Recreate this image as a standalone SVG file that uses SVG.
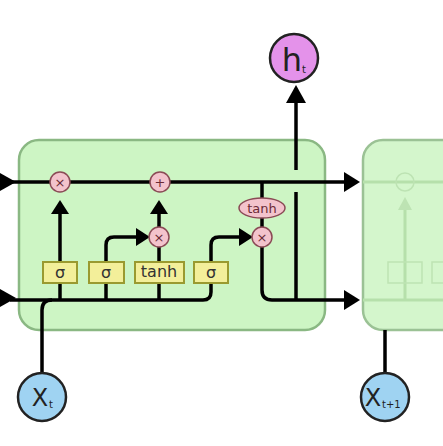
<svg xmlns="http://www.w3.org/2000/svg" width="443" height="446" viewBox="0 0 443 446">
<defs>
<style>
.ln{fill:none;stroke:#000;stroke-width:3.5;stroke-linecap:butt;stroke-linejoin:round}
.fl{fill:none;stroke:#b6e0ab;stroke-width:3}
.op{fill:#f3c3cc;stroke:#8a4a55;stroke-width:1.5}
.opt{font-family:"DejaVu Sans",sans-serif;font-size:13px;fill:#6a2a35;text-anchor:middle}
.gate{fill:#f3ef9a;stroke:#9a9a30;stroke-width:2}
.gt{font-family:"DejaVu Sans",sans-serif;font-size:16px;fill:#333;text-anchor:middle}
.cell{fill:#cdf5c4;stroke:#8ab883;stroke-width:2.5}
.lbl{font-family:"DejaVu Sans",sans-serif;fill:#222}
</style>
</defs>
<g id="cell_next">
<rect class="cell" x="363" y="140" width="110" height="190" rx="20" opacity="0.85"/>
<line class="fl" x1="363" y1="182" x2="443" y2="182"/>
<line class="fl" x1="363" y1="300" x2="443" y2="300"/>
<circle cx="405" cy="182" r="9" fill="none" stroke="#bde3b3" stroke-width="1.5"/>
<line class="fl" x1="405" y1="300" x2="405" y2="205"/>
<path d="M398,210 L405,197 L412,210 z" fill="#bde3b3"/>
<rect x="388" y="262" width="34" height="21" fill="none" stroke="#bde3b3" stroke-width="1.5"/>
<rect x="432" y="262" width="20" height="21" fill="none" stroke="#bde3b3" stroke-width="1.5"/>
</g>
<g id="cell">
<rect class="cell" x="19" y="140" width="306" height="190" rx="20"/>
</g>
<g id="connectors">
<path class="ln" d="M10,182 L346,182"/>
<path d="M0,173 L16,182 L0,191 z" fill="#000"/>
<path d="M0,289 L16,298 L0,307 z" fill="#000"/>
<path d="M344,172 L360,182 L344,192 z" fill="#000"/>
<path class="ln" d="M10,300 L203,300 Q211,300 211,292 L211,283"/>
<path class="ln" d="M42,373 L42,310 Q42,300 52,300"/>
<path class="ln" d="M60,300 L60,283"/>
<path class="ln" d="M60,262 L60,213"/>
<path d="M51,214 L60,200 L69,214 z" fill="#000"/>
<path class="ln" d="M106,300 L106,283"/>
<path class="ln" d="M106,262 L106,245 Q106,237 114,237 L138,237"/>
<path d="M136,228 L150,237 L136,246 z" fill="#000"/>
<path class="ln" d="M159,300 L159,283"/>
<path class="ln" d="M159,262 L159,247"/>
<path class="ln" d="M159,227 L159,213"/>
<path d="M150,214 L159,200 L168,214 z" fill="#000"/>
<path class="ln" d="M211,262 L211,245 Q211,237 219,237 L240,237"/>
<path d="M239,228 L253,237 L239,246 z" fill="#000"/>
<path class="ln" d="M262,182 L262,198"/>
<path class="ln" d="M262,218 L262,228"/>
<path class="ln" d="M262,247 L262,290 Q262,300 272,300 L346,300"/>
<path d="M344,290 L360,300 L344,310 z" fill="#000"/>
<path class="ln" d="M296,300 L296,192"/>
<path class="ln" d="M296,170 L296,100"/>
<path d="M286,103 L296,85 L306,103 z" fill="#000"/>
<path class="ln" d="M385,373 L385,330"/>
</g>
<g id="mul_f"><circle class="op" cx="60" cy="182" r="10"/><text class="opt" x="60" y="186.5">×</text></g>
<g id="add"><circle class="op" cx="160" cy="182" r="10"/><text class="opt" x="160" y="186.5">+</text></g>
<g id="mul_i"><circle class="op" cx="159" cy="237" r="10"/><text class="opt" x="159" y="241.5">×</text></g>
<g id="mul_o"><circle class="op" cx="262" cy="237" r="10"/><text class="opt" x="262" y="241.5">×</text></g>
<g id="tanh_c"><ellipse class="op" cx="262" cy="208" rx="23" ry="10"/><text class="opt" x="262" y="212.5">tanh</text></g>
<g id="gate_f"><rect class="gate" x="43" y="262" width="34" height="21"/><text class="gt" x="60" y="278">σ</text></g>
<g id="gate_i"><rect class="gate" x="89" y="262" width="35" height="21"/><text class="gt" x="106" y="278">σ</text></g>
<g id="gate_c"><rect class="gate" x="135" y="262" width="49" height="21"/><text class="gt" x="159" y="277" font-size="13">tanh</text></g>
<g id="gate_o"><rect class="gate" x="194" y="262" width="34" height="21"/><text class="gt" x="211" y="278">σ</text></g>
<g id="h_t"><circle cx="294" cy="58" r="24" fill="#e492ea" stroke="#222" stroke-width="2.5"/><text class="lbl" x="292" y="71" font-size="32" text-anchor="middle">h</text><text class="lbl" x="302" y="73" font-size="10">t</text></g>
<g id="x_t"><circle cx="42" cy="397" r="24" fill="#9fd3f2" stroke="#222" stroke-width="2.5"/><text class="lbl" x="40" y="406" font-size="24" text-anchor="middle">X</text><text class="lbl" x="49" y="408" font-size="10">t</text></g>
<g id="x_t1"><circle cx="385" cy="397" r="24" fill="#9fd3f2" stroke="#222" stroke-width="2.5"/><text class="lbl" x="373" y="406" font-size="24" text-anchor="middle">X</text><text class="lbl" x="382" y="408" font-size="10">t+1</text></g>
</svg>
